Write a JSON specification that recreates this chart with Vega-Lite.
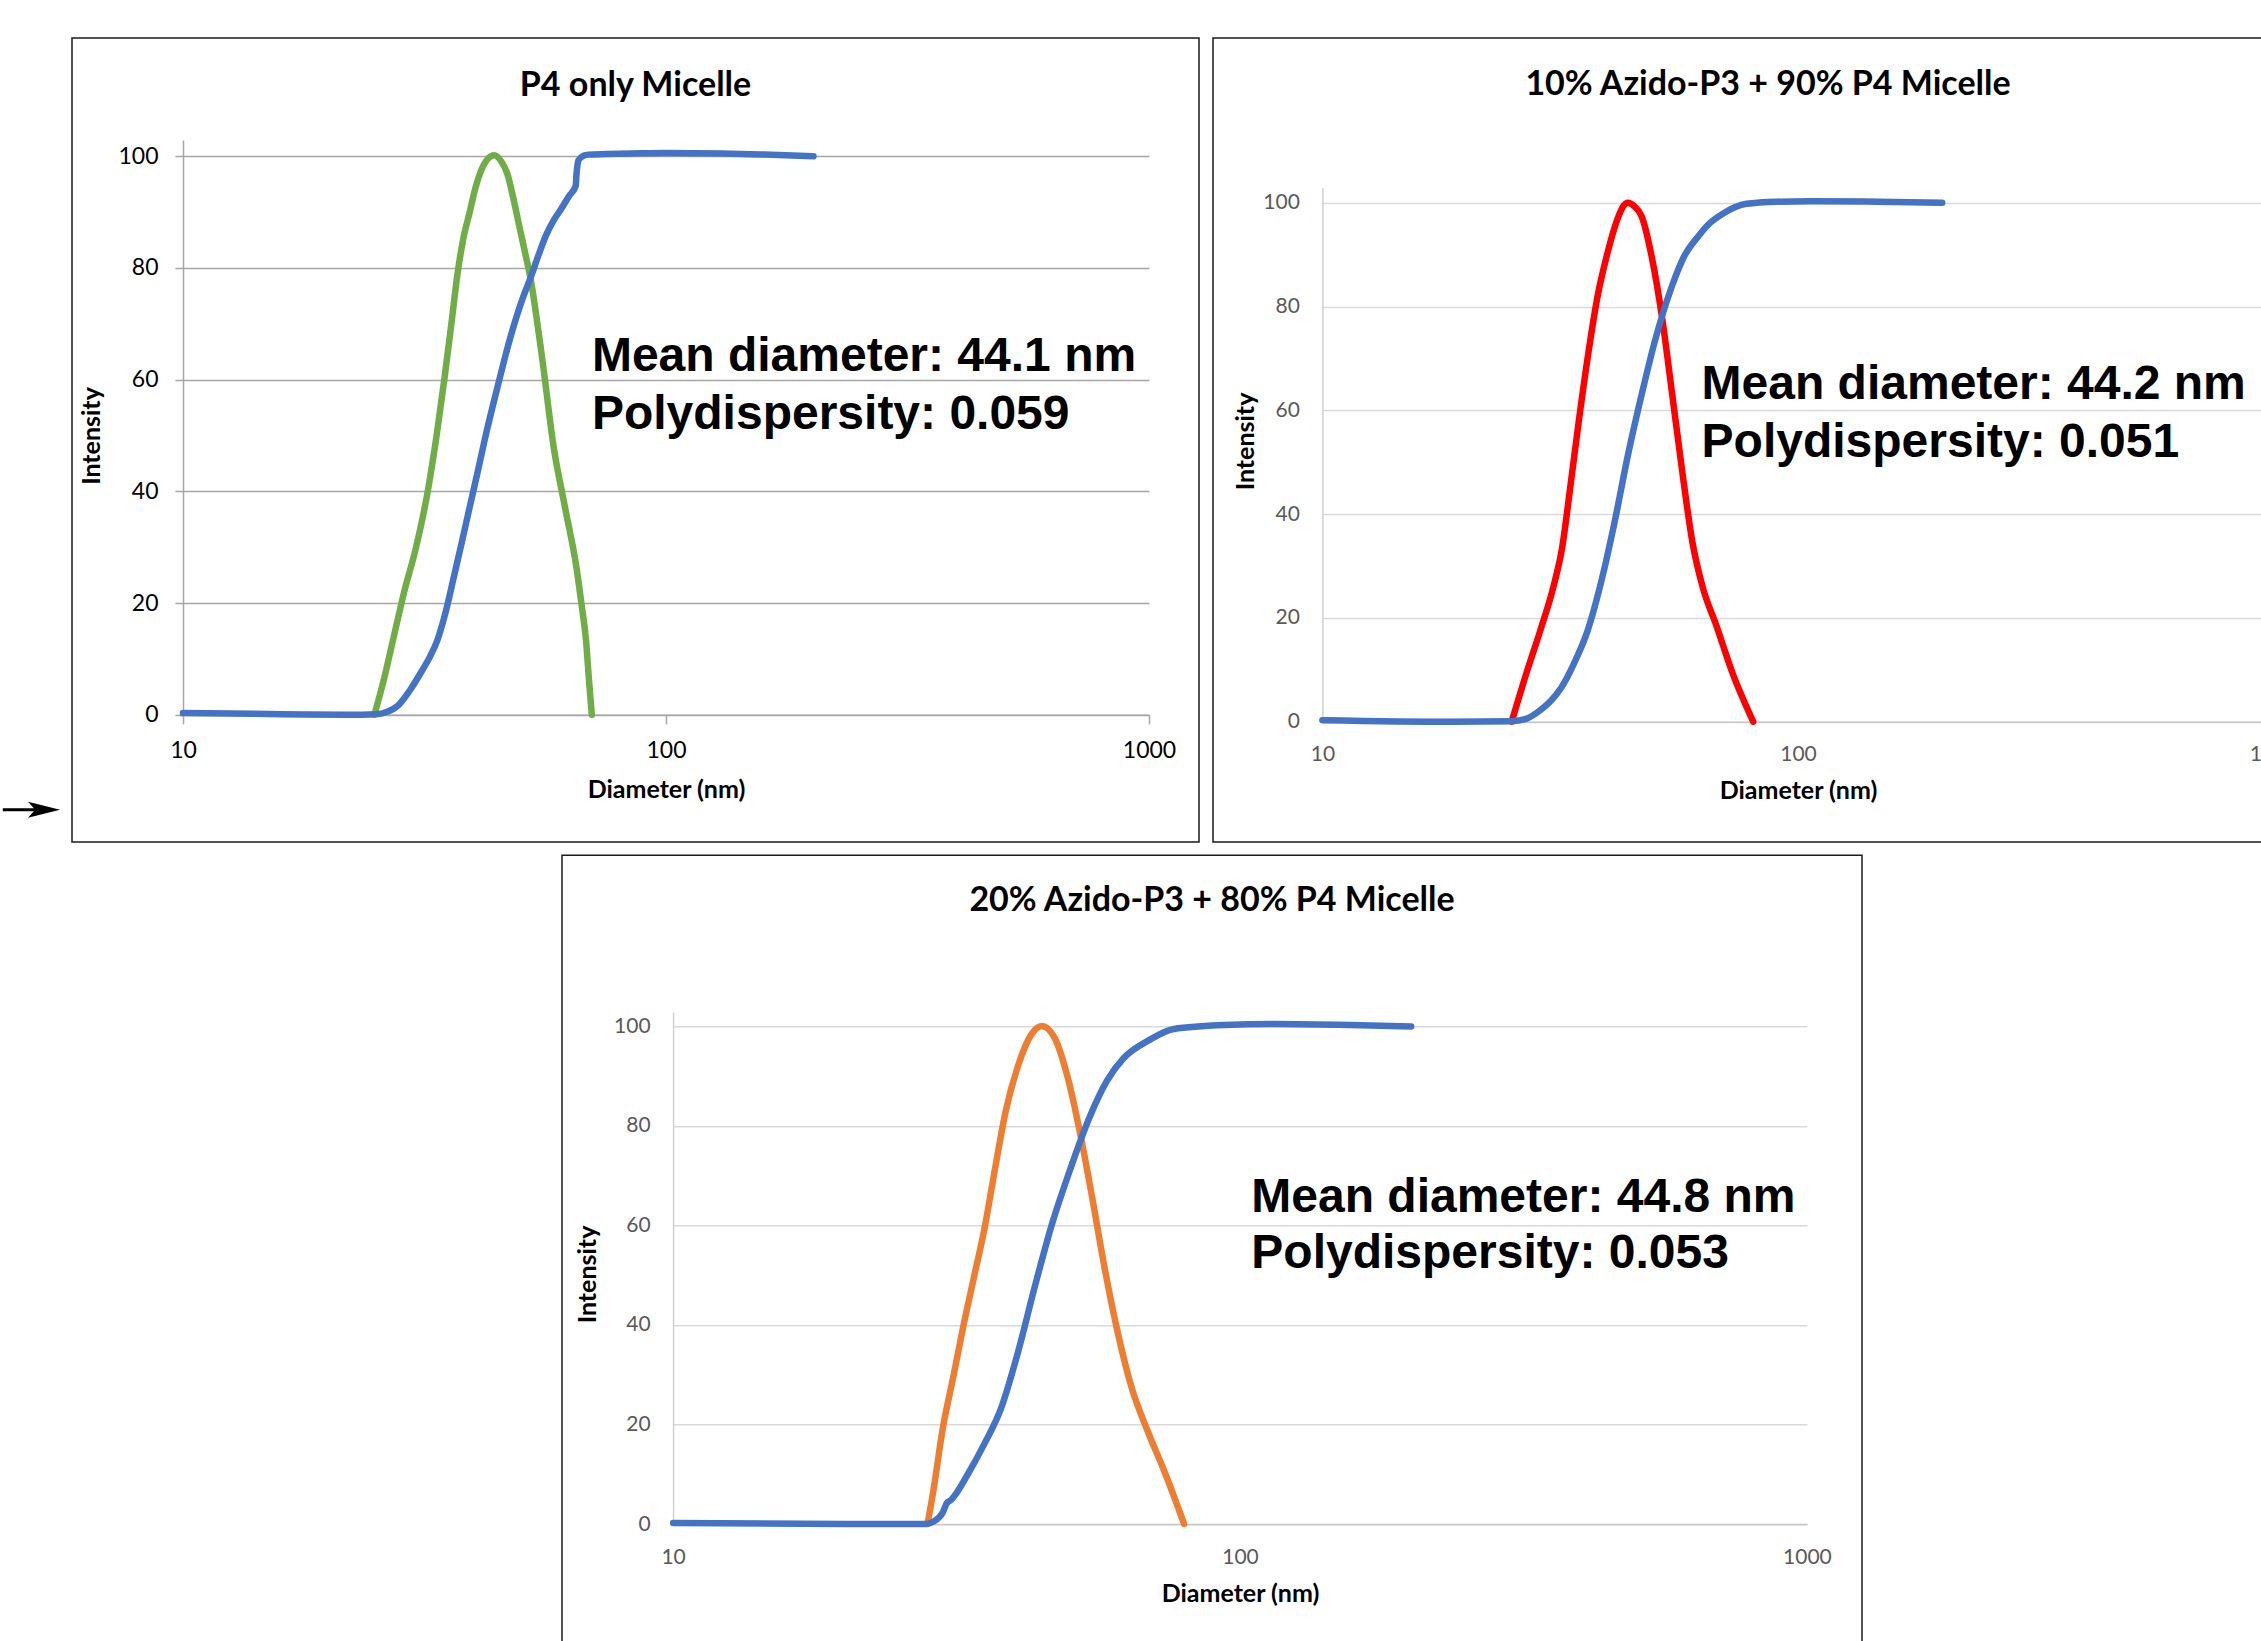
{
  "$schema": "https://vega.github.io/schema/vega-lite/v6.json",
  "background": "white",
  "padding": {"left": 0, "top": 37, "right": 0, "bottom": 0},
  "datasets": {
    "p1": [
      {"d": 24.9, "I": 0, "series": "P4 only distribution"},
      {"d": 26.0, "I": 6, "series": "P4 only distribution"},
      {"d": 27.2, "I": 13.3, "series": "P4 only distribution"},
      {"d": 28.7, "I": 22, "series": "P4 only distribution"},
      {"d": 30.3, "I": 29.6, "series": "P4 only distribution"},
      {"d": 32.1, "I": 39.9, "series": "P4 only distribution"},
      {"d": 33.5, "I": 50, "series": "P4 only distribution"},
      {"d": 34.8, "I": 60.4, "series": "P4 only distribution"},
      {"d": 36.0, "I": 70.5, "series": "P4 only distribution"},
      {"d": 37.1, "I": 79.6, "series": "P4 only distribution"},
      {"d": 38.1, "I": 85.5, "series": "P4 only distribution"},
      {"d": 39.2, "I": 89.9, "series": "P4 only distribution"},
      {"d": 40.3, "I": 94.3, "series": "P4 only distribution"},
      {"d": 41.4, "I": 97.4, "series": "P4 only distribution"},
      {"d": 42.7, "I": 99.5, "series": "P4 only distribution"},
      {"d": 44.1, "I": 100.2, "series": "P4 only distribution"},
      {"d": 45.5, "I": 99.2, "series": "P4 only distribution"},
      {"d": 47.0, "I": 96.7, "series": "P4 only distribution"},
      {"d": 48.3, "I": 92.5, "series": "P4 only distribution"},
      {"d": 49.6, "I": 87.8, "series": "P4 only distribution"},
      {"d": 51.0, "I": 83, "series": "P4 only distribution"},
      {"d": 52.4, "I": 78.2, "series": "P4 only distribution"},
      {"d": 55.4, "I": 63.9, "series": "P4 only distribution"},
      {"d": 58.5, "I": 48.1, "series": "P4 only distribution"},
      {"d": 61.8, "I": 37.1, "series": "P4 only distribution"},
      {"d": 65.3, "I": 26.2, "series": "P4 only distribution"},
      {"d": 66.8, "I": 20, "series": "P4 only distribution"},
      {"d": 68.3, "I": 13.3, "series": "P4 only distribution"},
      {"d": 69.3, "I": 6, "series": "P4 only distribution"},
      {"d": 70.2, "I": 0, "series": "P4 only distribution"},
      {"d": 10, "I": 0.3, "series": "P4 only cumulative"},
      {"d": 14, "I": 0.2, "series": "P4 only cumulative"},
      {"d": 18, "I": 0.05, "series": "P4 only cumulative"},
      {"d": 22, "I": 0, "series": "P4 only cumulative"},
      {"d": 25, "I": 0.1, "series": "P4 only cumulative"},
      {"d": 26.4, "I": 0.5, "series": "P4 only cumulative"},
      {"d": 27.9, "I": 1.7, "series": "P4 only cumulative"},
      {"d": 29.5, "I": 4.4, "series": "P4 only cumulative"},
      {"d": 31.2, "I": 7.8, "series": "P4 only cumulative"},
      {"d": 32.5, "I": 10.5, "series": "P4 only cumulative"},
      {"d": 33.6, "I": 13.3, "series": "P4 only cumulative"},
      {"d": 35.0, "I": 18.5, "series": "P4 only cumulative"},
      {"d": 36.4, "I": 24.8, "series": "P4 only cumulative"},
      {"d": 37.8, "I": 31, "series": "P4 only cumulative"},
      {"d": 39.2, "I": 37.1, "series": "P4 only cumulative"},
      {"d": 40.7, "I": 43.3, "series": "P4 only cumulative"},
      {"d": 42.2, "I": 49.5, "series": "P4 only cumulative"},
      {"d": 43.7, "I": 55, "series": "P4 only cumulative"},
      {"d": 45.3, "I": 60.4, "series": "P4 only cumulative"},
      {"d": 47.0, "I": 65.8, "series": "P4 only cumulative"},
      {"d": 48.8, "I": 70.7, "series": "P4 only cumulative"},
      {"d": 50.6, "I": 74.8, "series": "P4 only cumulative"},
      {"d": 52.4, "I": 78.2, "series": "P4 only cumulative"},
      {"d": 54.4, "I": 82.2, "series": "P4 only cumulative"},
      {"d": 56.4, "I": 85.8, "series": "P4 only cumulative"},
      {"d": 58.5, "I": 88.5, "series": "P4 only cumulative"},
      {"d": 60.7, "I": 90.6, "series": "P4 only cumulative"},
      {"d": 63.0, "I": 92.9, "series": "P4 only cumulative"},
      {"d": 65.0, "I": 94.7, "series": "P4 only cumulative"},
      {"d": 65.3, "I": 97, "series": "P4 only cumulative"},
      {"d": 65.9, "I": 99.3, "series": "P4 only cumulative"},
      {"d": 67.5, "I": 100.1, "series": "P4 only cumulative"},
      {"d": 69.0, "I": 100.3, "series": "P4 only cumulative"},
      {"d": 75, "I": 100.4, "series": "P4 only cumulative"},
      {"d": 85, "I": 100.5, "series": "P4 only cumulative"},
      {"d": 100, "I": 100.6, "series": "P4 only cumulative"},
      {"d": 130, "I": 100.5, "series": "P4 only cumulative"},
      {"d": 160, "I": 100.3, "series": "P4 only cumulative"},
      {"d": 202, "I": 100, "series": "P4 only cumulative"}
    ],
    "p2": [
      {"d": 25.0, "I": 0, "series": "10% distribution"},
      {"d": 26.9, "I": 9.6, "series": "10% distribution"},
      {"d": 28.7, "I": 17.5, "series": "10% distribution"},
      {"d": 30.6, "I": 26, "series": "10% distribution"},
      {"d": 31.9, "I": 33.4, "series": "10% distribution"},
      {"d": 33.3, "I": 46.1, "series": "10% distribution"},
      {"d": 34.7, "I": 58.8, "series": "10% distribution"},
      {"d": 36.3, "I": 71.5, "series": "10% distribution"},
      {"d": 37.9, "I": 82, "series": "10% distribution"},
      {"d": 39.8, "I": 90.5, "series": "10% distribution"},
      {"d": 41.7, "I": 96.8, "series": "10% distribution"},
      {"d": 42.8, "I": 99.2, "series": "10% distribution"},
      {"d": 43.9, "I": 100, "series": "10% distribution"},
      {"d": 45.3, "I": 99.3, "series": "10% distribution"},
      {"d": 46.9, "I": 97.4, "series": "10% distribution"},
      {"d": 49.3, "I": 89.4, "series": "10% distribution"},
      {"d": 51.8, "I": 77.8, "series": "10% distribution"},
      {"d": 54.4, "I": 63, "series": "10% distribution"},
      {"d": 57.1, "I": 48.2, "series": "10% distribution"},
      {"d": 60.0, "I": 34.5, "series": "10% distribution"},
      {"d": 63.0, "I": 26, "series": "10% distribution"},
      {"d": 67.3, "I": 18.6, "series": "10% distribution"},
      {"d": 73.0, "I": 9.1, "series": "10% distribution"},
      {"d": 80.5, "I": 0, "series": "10% distribution"},
      {"d": 10, "I": 0.3, "series": "10% cumulative"},
      {"d": 18.8, "I": 0, "series": "10% cumulative"},
      {"d": 25, "I": 0.1, "series": "10% cumulative"},
      {"d": 26.9, "I": 0.6, "series": "10% cumulative"},
      {"d": 28.7, "I": 2.2, "series": "10% cumulative"},
      {"d": 30.2, "I": 4, "series": "10% cumulative"},
      {"d": 31.7, "I": 6.4, "series": "10% cumulative"},
      {"d": 33.8, "I": 11.2, "series": "10% cumulative"},
      {"d": 36.1, "I": 17.5, "series": "10% cumulative"},
      {"d": 38.6, "I": 27.1, "series": "10% cumulative"},
      {"d": 41.2, "I": 38.7, "series": "10% cumulative"},
      {"d": 43.9, "I": 51.4, "series": "10% cumulative"},
      {"d": 46.9, "I": 63, "series": "10% cumulative"},
      {"d": 50.1, "I": 73.6, "series": "10% cumulative"},
      {"d": 54.4, "I": 84.1, "series": "10% cumulative"},
      {"d": 57.5, "I": 89.5, "series": "10% cumulative"},
      {"d": 61.9, "I": 93.7, "series": "10% cumulative"},
      {"d": 65.5, "I": 96.2, "series": "10% cumulative"},
      {"d": 69.5, "I": 97.9, "series": "10% cumulative"},
      {"d": 77.9, "I": 99.8, "series": "10% cumulative"},
      {"d": 90.3, "I": 100.2, "series": "10% cumulative"},
      {"d": 106.4, "I": 100.3, "series": "10% cumulative"},
      {"d": 147.6, "I": 100.2, "series": "10% cumulative"},
      {"d": 201, "I": 100, "series": "10% cumulative"}
    ],
    "p3": [
      {"d": 28.1, "I": 0, "series": "20% distribution"},
      {"d": 28.8, "I": 6.9, "series": "20% distribution"},
      {"d": 29.9, "I": 19.2, "series": "20% distribution"},
      {"d": 31.2, "I": 29.5, "series": "20% distribution"},
      {"d": 32.5, "I": 39.7, "series": "20% distribution"},
      {"d": 34.0, "I": 50, "series": "20% distribution"},
      {"d": 35.4, "I": 59.2, "series": "20% distribution"},
      {"d": 37.0, "I": 71.6, "series": "20% distribution"},
      {"d": 38.6, "I": 82.9, "series": "20% distribution"},
      {"d": 40.6, "I": 92.1, "series": "20% distribution"},
      {"d": 42.8, "I": 98.3, "series": "20% distribution"},
      {"d": 44.7, "I": 100.1, "series": "20% distribution"},
      {"d": 47.1, "I": 97.7, "series": "20% distribution"},
      {"d": 49.6, "I": 90, "series": "20% distribution"},
      {"d": 52.2, "I": 78.7, "series": "20% distribution"},
      {"d": 54.9, "I": 65.4, "series": "20% distribution"},
      {"d": 57.8, "I": 51, "series": "20% distribution"},
      {"d": 60.8, "I": 38.7, "series": "20% distribution"},
      {"d": 64.4, "I": 27.4, "series": "20% distribution"},
      {"d": 69.0, "I": 18.2, "series": "20% distribution"},
      {"d": 73.9, "I": 10, "series": "20% distribution"},
      {"d": 79.7, "I": 0, "series": "20% distribution"},
      {"d": 10, "I": 0.2, "series": "20% cumulative"},
      {"d": 20.1, "I": 0, "series": "20% cumulative"},
      {"d": 28, "I": 0, "series": "20% cumulative"},
      {"d": 28.8, "I": 0.5, "series": "20% cumulative"},
      {"d": 29.9, "I": 2.3, "series": "20% cumulative"},
      {"d": 30.4, "I": 4.2, "series": "20% cumulative"},
      {"d": 30.9, "I": 4.8, "series": "20% cumulative"},
      {"d": 33.1, "I": 10, "series": "20% cumulative"},
      {"d": 35.4, "I": 16.1, "series": "20% cumulative"},
      {"d": 37.9, "I": 23.3, "series": "20% cumulative"},
      {"d": 40.6, "I": 34.6, "series": "20% cumulative"},
      {"d": 43.5, "I": 47.9, "series": "20% cumulative"},
      {"d": 46.6, "I": 60.3, "series": "20% cumulative"},
      {"d": 49.9, "I": 70.5, "series": "20% cumulative"},
      {"d": 54.3, "I": 81.8, "series": "20% cumulative"},
      {"d": 58.2, "I": 89, "series": "20% cumulative"},
      {"d": 62.3, "I": 93.6, "series": "20% cumulative"},
      {"d": 69.0, "I": 97.2, "series": "20% cumulative"},
      {"d": 76.4, "I": 99.5, "series": "20% cumulative"},
      {"d": 93.9, "I": 100.3, "series": "20% cumulative"},
      {"d": 115.3, "I": 100.5, "series": "20% cumulative"},
      {"d": 156.8, "I": 100.3, "series": "20% cumulative"},
      {"d": 200.4, "I": 100, "series": "20% cumulative"}
    ],
    "n1": [
      {"d": 70.25, "I": 61.5, "label": "Mean diameter: 44.1 nm"},
      {"d": 70.25, "I": 51.2, "label": "Polydispersity: 0.059"}
    ],
    "n2": [
      {"d": 62.7, "I": 62.1, "label": "Mean diameter: 44.2 nm"},
      {"d": 62.7, "I": 51.1, "label": "Polydispersity: 0.051"}
    ],
    "n3": [
      {"d": 104.7, "I": 62.8, "label": "Mean diameter: 44.8 nm"},
      {"d": 104.7, "I": 51.5, "label": "Polydispersity: 0.053"}
    ],
    "arrowline": [{"from": 4.235, "to": 4.96, "I": -17}],
    "arrowhead": [{"at": 5.155, "I": -17}]
  },
  "vconcat": [
    {
      "hconcat": [
        {
          "width": 1127,
          "height": 804,
          "title": {"text": "P4 only Micelle", "font": "Lato", "fontSize": 34, "fontWeight": "bold", "color": "#000000", "anchor": "middle", "frame": "group", "baseline": "alphabetic", "offset": -91.8},
          "layer": [
            {
              "data": {"name": "p1"},
              "mark": {"type": "line", "strokeWidth": 6.5, "strokeCap": "round", "strokeJoin": "round", "interpolate": "monotone"},
              "encoding": {
                "x": {"field": "d", "type": "quantitative",
                  "scale": {"type": "log", "domain": [10, 1000], "range": [111, 1077], "nice": false},
                  "axis": {"orient": "bottom", "offset": -127.2, "values": [10, 100, 1000], "format": "d", "grid": false,
                    "domainColor": "#a6a6a6", "domainWidth": 1.5, "ticks": true, "tickSize": 9, "tickColor": "#a6a6a6", "tickWidth": 1.5,
                    "labelFont": "Lato", "labelFontSize": 23, "labelColor": "#000000", "labelPadding": 15.5, "labelFlush": false, "labelOverlap": false,
                    "title": "Diameter (nm)", "titleFont": "Lato", "titleFontSize": 25, "titleFontWeight": "bold", "titleColor": "#000000", "titlePadding": 15}},
                "y": {"field": "I", "type": "quantitative",
                  "scale": {"domain": [0, 102.9], "range": [676.8, 102.1], "nice": false, "zero": false},
                  "axis": {"orient": "left", "offset": -111, "values": [0, 20, 40, 60, 80, 100], "format": "d",
                    "grid": true, "gridColor": "#a6a6a6", "gridWidth": 1.5,
                    "domainColor": "#a6a6a6", "domainWidth": 1.5, "ticks": true, "tickSize": 8, "tickColor": "#a6a6a6", "tickWidth": 1.5,
                    "labelFont": "Lato", "labelFontSize": 23, "labelColor": "#000000", "labelPadding": 17, "labelOverlap": false,
                    "title": "Intensity", "titleFont": "Lato", "titleFontSize": 25, "titleFontWeight": "bold", "titleColor": "#000000", "titlePadding": 13, "titleY": 397.5}},
                "color": {"field": "series", "type": "nominal",
                  "scale": {"domain": ["P4 only distribution", "P4 only cumulative"], "range": ["#70AD47", "#4472C4"]}, "legend": null}
              }
            },
            {
              "data": {"name": "n1"},
              "mark": {"type": "text", "align": "left", "baseline": "alphabetic", "font": "Liberation Sans", "fontSize": 48, "fontWeight": "bold", "color": "#000000"},
              "encoding": {
                "x": {"field": "d", "type": "quantitative", "scale": {"type": "log", "domain": [10, 1000], "range": [111, 1077], "nice": false}},
                "y": {"field": "I", "type": "quantitative", "scale": {"domain": [0, 102.9], "range": [676.8, 102.1], "nice": false, "zero": false}},
                "text": {"field": "label"}
              }
            },
            {
              "data": {"name": "arrowline"},
              "mark": {"type": "rule", "color": "#000000", "strokeWidth": 3},
              "encoding": {
                "x": {"field": "from", "type": "quantitative", "scale": {"type": "log", "domain": [10, 1000], "range": [111, 1077], "nice": false}},
                "x2": {"field": "to"},
                "y": {"field": "I", "type": "quantitative", "scale": {"domain": [0, 102.9], "range": [676.8, 102.1], "nice": false, "zero": false}}
              }
            },
            {
              "data": {"name": "arrowhead"},
              "mark": {"type": "point", "shape": "M-1,-0.5L1,0L-1,0.5L-0.55,0Z", "size": 1024, "filled": true, "color": "#000000", "opacity": 1},
              "encoding": {
                "x": {"field": "at", "type": "quantitative", "scale": {"type": "log", "domain": [10, 1000], "range": [111, 1077], "nice": false}},
                "y": {"field": "I", "type": "quantitative", "scale": {"domain": [0, 102.9], "range": [676.8, 102.1], "nice": false, "zero": false}}
              }
            }
          ]
        },
        {
          "width": 1110,
          "height": 804,
          "title": {"text": "10% Azido-P3 + 90% P4 Micelle", "font": "Lato", "fontSize": 34, "fontWeight": "bold", "color": "#000000", "anchor": "middle", "frame": "group", "baseline": "alphabetic", "offset": -91.4},
          "layer": [
            {
              "data": {"name": "p2"},
              "mark": {"type": "line", "strokeWidth": 6.5, "strokeCap": "round", "strokeJoin": "round", "interpolate": "monotone"},
              "encoding": {
                "x": {"field": "d", "type": "quantitative",
                  "scale": {"type": "log", "domain": [10, 1000], "range": [109.4, 1060.6], "nice": false},
                  "axis": {"orient": "bottom", "offset": -120.3, "values": [10, 100, 1000], "format": "d", "grid": false,
                    "domainColor": "#c6c6c6", "domainWidth": 1.5, "ticks": false,
                    "labelFont": "Lato", "labelFontSize": 21, "labelColor": "#595959", "labelPadding": 22, "labelFlush": false, "labelOverlap": false,
                    "title": "Diameter (nm)", "titleFont": "Lato", "titleFontSize": 25, "titleFontWeight": "bold", "titleColor": "#000000", "titlePadding": 14}},
                "y": {"field": "I", "type": "quantitative",
                  "scale": {"domain": [0, 102.9], "range": [683.7, 149.7], "nice": false, "zero": false},
                  "axis": {"orient": "left", "offset": -109.4, "values": [0, 20, 40, 60, 80, 100], "format": "d",
                    "grid": true, "gridColor": "#d9d9d9", "gridWidth": 1.5,
                    "domainColor": "#d0d0d0", "domainWidth": 1.5, "ticks": false,
                    "labelFont": "Lato", "labelFontSize": 21, "labelColor": "#595959", "labelPadding": 23, "labelOverlap": false,
                    "title": "Intensity", "titleFont": "Lato", "titleFontSize": 25, "titleFontWeight": "bold", "titleColor": "#000000", "titlePadding": 4, "titleY": 403}},
                "color": {"field": "series", "type": "nominal",
                  "scale": {"domain": ["10% distribution", "10% cumulative"], "range": ["#FF0000", "#4472C4"]}, "legend": null}
              }
            },
            {
              "data": {"name": "n2"},
              "mark": {"type": "text", "align": "left", "baseline": "alphabetic", "font": "Liberation Sans", "fontSize": 48, "fontWeight": "bold", "color": "#000000"},
              "encoding": {
                "x": {"field": "d", "type": "quantitative", "scale": {"type": "log", "domain": [10, 1000], "range": [109.4, 1060.6], "nice": false}},
                "y": {"field": "I", "type": "quantitative", "scale": {"domain": [0, 102.9], "range": [683.7, 149.7], "nice": false, "zero": false}},
                "text": {"field": "label"}
              }
            }
          ]
        }
      ],
      "spacing": 12,
      "resolve": {"scale": {"x": "independent", "y": "independent", "color": "independent"}}
    },
    {
      "hconcat": [
        {
          "width": 477,
          "height": 1,
          "view": {"stroke": null},
          "data": {"values": []},
          "mark": {"type": "point", "opacity": 0}
        },
        {
          "width": 1300,
          "height": 795,
          "title": {"text": "20% Azido-P3 + 80% P4 Micelle", "font": "Lato", "fontSize": 34, "fontWeight": "bold", "color": "#000000", "anchor": "middle", "frame": "group", "baseline": "alphabetic", "offset": -89.7},
          "layer": [
            {
              "data": {"name": "p3"},
              "mark": {"type": "line", "strokeWidth": 6.5, "strokeCap": "round", "strokeJoin": "round", "interpolate": "monotone"},
              "encoding": {
                "x": {"field": "d", "type": "quantitative",
                  "scale": {"type": "log", "domain": [10, 1000], "range": [111.1, 1244.9], "nice": false},
                  "axis": {"orient": "bottom", "offset": -126.3, "values": [10, 100, 1000], "format": "d", "grid": false,
                    "domainColor": "#c6c6c6", "domainWidth": 1.5, "ticks": false,
                    "labelFont": "Lato", "labelFontSize": 21, "labelColor": "#595959", "labelPadding": 22, "labelFlush": false, "labelOverlap": false,
                    "title": "Diameter (nm)", "titleFont": "Lato", "titleFontSize": 25, "titleFontWeight": "bold", "titleColor": "#000000", "titlePadding": 14}},
                "y": {"field": "I", "type": "quantitative",
                  "scale": {"domain": [0, 102.9], "range": [668.7, 156.7], "nice": false, "zero": false},
                  "axis": {"orient": "left", "offset": -111.1, "values": [0, 20, 40, 60, 80, 100], "format": "d",
                    "grid": true, "gridColor": "#d9d9d9", "gridWidth": 1.5,
                    "domainColor": "#d0d0d0", "domainWidth": 1.5, "ticks": false,
                    "labelFont": "Lato", "labelFontSize": 21, "labelColor": "#595959", "labelPadding": 23, "labelOverlap": false,
                    "title": "Intensity", "titleFont": "Lato", "titleFontSize": 25, "titleFontWeight": "bold", "titleColor": "#000000", "titlePadding": 13, "titleY": 418.7}},
                "color": {"field": "series", "type": "nominal",
                  "scale": {"domain": ["20% distribution", "20% cumulative"], "range": ["#ED7D31", "#4472C4"]}, "legend": null}
              }
            },
            {
              "data": {"name": "n3"},
              "mark": {"type": "text", "align": "left", "baseline": "alphabetic", "font": "Liberation Sans", "fontSize": 48, "fontWeight": "bold", "color": "#000000"},
              "encoding": {
                "x": {"field": "d", "type": "quantitative", "scale": {"type": "log", "domain": [10, 1000], "range": [111.1, 1244.9], "nice": false}},
                "y": {"field": "I", "type": "quantitative", "scale": {"domain": [0, 102.9], "range": [668.7, 156.7], "nice": false, "zero": false}},
                "text": {"field": "label"}
              }
            }
          ]
        }
      ],
      "spacing": 12,
      "resolve": {"scale": {"x": "independent", "y": "independent", "color": "independent"}}
    }
  ],
  "spacing": 11.3,
  "resolve": {"scale": {"x": "independent", "y": "independent", "color": "independent"}},
  "config": {
    "view": {"stroke": "#1a1a1a", "strokeWidth": 1.5},
    "axis": {"labelFont": "Lato", "titleFont": "Lato"}
  }
}
